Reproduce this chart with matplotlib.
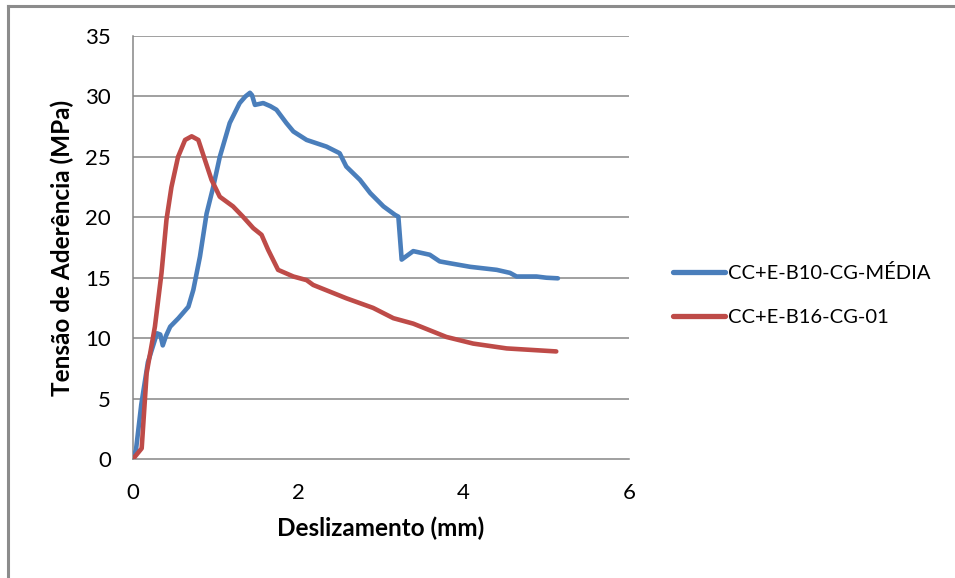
import matplotlib
matplotlib.use("Agg")
import matplotlib.pyplot as plt
from matplotlib.lines import Line2D

plt.rcParams['font.family'] = ['Lato', 'DejaVu Sans']

# Bond stress vs slip curves
b10_slip = [0.0, 0.036, 0.10, 0.18, 0.29, 0.33, 0.36, 0.40, 0.45, 0.55, 0.67, 0.73, 0.81,
            0.89, 0.97, 1.05, 1.17, 1.29, 1.36, 1.415, 1.44, 1.475, 1.575, 1.66, 1.735,
            1.855, 1.94, 2.10, 2.34, 2.50, 2.58, 2.745, 2.87, 3.03, 3.17, 3.21, 3.25,
            3.39, 3.59, 3.71, 3.83, 4.08, 4.40, 4.56, 4.64, 4.88, 5.00, 5.14]
b10_stress = [0.0, 0.75, 4.5, 8.0, 10.4, 10.3, 9.4, 10.2, 10.95, 11.65, 12.6, 14.0, 16.75,
              20.3, 22.5, 25.0, 27.8, 29.45, 30.0, 30.3, 30.1, 29.3, 29.45, 29.2, 28.9,
              27.8, 27.1, 26.4, 25.85, 25.3, 24.2, 23.1, 22.0, 20.9, 20.2, 20.05, 16.5,
              17.2, 16.9, 16.35, 16.2, 15.9, 15.65, 15.4, 15.1, 15.1, 15.0, 14.95]

b16_slip = [0.0, 0.105, 0.165, 0.265, 0.345, 0.405, 0.465, 0.545, 0.63, 0.71, 0.79,
            0.87, 0.95, 1.05, 1.21, 1.33, 1.455, 1.555, 1.635, 1.755, 1.94, 2.10, 2.18,
            2.58, 2.905, 3.15, 3.39, 3.79, 4.115, 4.52, 5.12]
b16_stress = [0.0, 0.88, 7.1, 10.95, 15.4, 19.8, 22.5, 25.0, 26.4, 26.7, 26.4,
              24.75, 23.1, 21.7, 20.9, 20.05, 19.1, 18.55, 17.3, 15.65, 15.1, 14.8, 14.4,
              13.3, 12.5, 11.65, 11.2, 10.1, 9.55, 9.15, 8.9]

labels = ["CC+E-B10-CG-MÉDIA", "CC+E-B16-CG-01"]
colors = ["#4A7EBB", "#BE4B48"]

x_ticks = [0, 2, 4, 6]
y_ticks = [0, 5, 10, 15, 20, 25, 30, 35]

W, H = 955, 578
fig = plt.figure(figsize=(W / 100, H / 100), dpi=100)
ax = fig.add_axes([133 / W, 1 - 459 / H, (629 - 133) / W, (459 - 36) / H])

grid_c = "#868686"
for y in y_ticks[1:]:
    ax.axhline(y, color=grid_c, lw=1.1, zorder=1)

ax.plot(b10_slip, b10_stress, color=colors[0], lw=3.3, solid_capstyle="round",
        solid_joinstyle="round", zorder=3)
ax.plot(b16_slip, b16_stress, color=colors[1], lw=3.3, solid_capstyle="round",
        solid_joinstyle="round", zorder=3)

ax.set_xlim(0, 6)
ax.set_ylim(0, 35)
ax.set_xticks(x_ticks)
ax.set_yticks(y_ticks)
ax.tick_params(length=0, labelsize=16, colors="black")
ax.tick_params(axis="x", pad=17)
ax.tick_params(axis="y", pad=16)
for s in ["top", "right"]:
    ax.spines[s].set_visible(False)
for s in ["left", "bottom"]:
    ax.spines[s].set_color(grid_c)
    ax.spines[s].set_linewidth(1.1)

ax.set_xlabel("Deslizamento (mm)", fontsize=17.5, fontweight="bold", labelpad=10)
ax.set_ylabel("Tensão de Aderência (MPa)", fontsize=17.5, fontweight="bold", labelpad=8)

handles = [Line2D([0], [0], color=c, lw=3.8, solid_capstyle="round") for c in colors]
fig.legend(handles, labels, loc="center left", bbox_to_anchor=(673 / W, 1 - 295 / H),
           frameon=False, fontsize=14.5, handlelength=2.6, handletextpad=0.15,
           labelspacing=1.35, borderaxespad=0, borderpad=0)

# outer chart frame (left and top edges)
fig.add_artist(Line2D([8 / W, 8 / W], [0, 1 - 6 / H], color="#8C8C8C", lw=2.2,
                      transform=fig.transFigure))
fig.add_artist(Line2D([8 / W, 1], [1 - 6 / H, 1 - 6 / H], color="#8C8C8C", lw=2.2,
                      transform=fig.transFigure))

fig.savefig("out.png", dpi=100)
